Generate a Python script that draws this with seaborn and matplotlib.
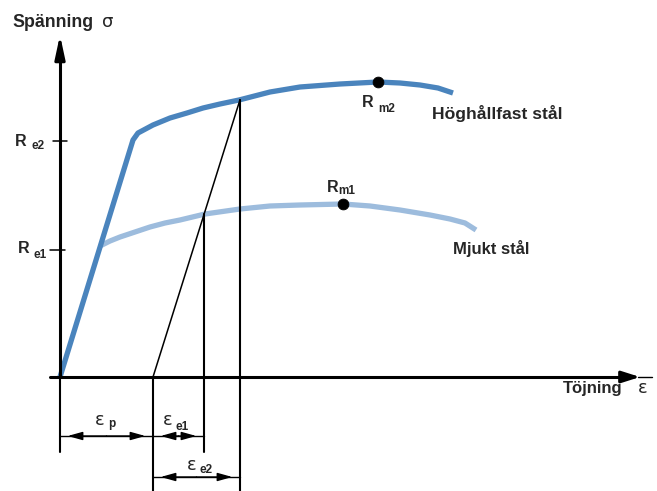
import numpy as np
import matplotlib
matplotlib.use("Agg")
import matplotlib.pyplot as plt
import seaborn as sns

sns.set_theme(style="white")
plt.rcParams["font.family"] = ["Liberation Sans", "DejaVu Sans"]

# Schematic stress-strain curves (arbitrary units)
strain_hs = [0, 73, 78, 93, 110, 127, 143, 160, 179, 210, 240, 280, 318,
             340, 360, 378, 393]
stress_hs = [0, 237, 244, 252, 259, 264, 269, 273, 277, 285, 290, 293, 295,
             294, 292, 289, 284]

strain_ms = [40, 50, 60, 75, 90, 105, 120, 145, 180, 210, 240, 283, 310,
             340, 370, 390, 405, 416]
stress_ms = [131, 136, 140, 145, 150, 154, 157, 163, 168, 171, 172, 173, 171,
             167, 162, 158, 154, 147]

Re2, Re1 = 236, 127            # yield strengths
Rm2 = (318, 295)               # tensile strength, high-strength steel
Rm1 = (283, 173)               # tensile strength, mild steel
eps_p, eps_e1, eps_e2 = 93, 51, 87   # plastic and elastic strain parts

dark = "#4a84bd"
light = "#9dbcdd"
ink = "black"

fig = plt.figure(figsize=(6.57, 4.91), dpi=100)
ax = fig.add_axes([0, 0, 1, 1])
ax.set_xlim(-60, 597)
ax.set_ylim(-114, 377)
ax.axis("off")

# curves
sns.lineplot(x=strain_ms, y=stress_ms, sort=False, color=light, lw=3.8, ax=ax,
             solid_capstyle="butt", solid_joinstyle="round", zorder=3)
sns.lineplot(x=strain_hs, y=stress_hs, sort=False, color=dark, lw=3.8, ax=ax,
             solid_capstyle="butt", solid_joinstyle="round", zorder=4)
sns.scatterplot(x=[Rm2[0], Rm1[0]], y=[Rm2[1], Rm1[1]], color=ink, s=60,
                edgecolor=ink, ax=ax, zorder=6)

# axes with arrows
axis_lw = 2.2
ax.plot([0, 0], [0, 320], color=ink, lw=axis_lw, zorder=5)
ax.annotate("", xy=(0, 342), xytext=(0, 318),
            arrowprops=dict(arrowstyle="-|>,head_length=1.4,head_width=0.3",
                            mutation_scale=10, color=ink, lw=axis_lw,
                            shrinkA=0, shrinkB=0), zorder=5)
ax.plot([-10, 566], [0, 0], color=ink, lw=axis_lw, zorder=5)
ax.annotate("", xy=(580, 0), xytext=(562, 0),
            arrowprops=dict(arrowstyle="-|>,head_length=1.1,head_width=0.35",
                            mutation_scale=10, color=ink, lw=axis_lw,
                            shrinkA=0, shrinkB=0), zorder=5)
ax.plot([578, 592], [0, 0], color=ink, lw=1.0, zorder=5)

# yield ticks
thin = 1.1
ax.plot([-7, 7], [Re2, Re2], color=ink, lw=thin)
ax.plot([-10, 5], [Re1, Re1], color=ink, lw=thin)

# unloading line and extension lines
x_e1 = eps_p + eps_e1
x_e2 = eps_p + eps_e2
top_e2 = np.interp(x_e2, strain_hs, stress_hs)
top_e1 = np.interp(x_e1, strain_ms, stress_ms)
ax.plot([eps_p, x_e2], [0, top_e2], color=ink, lw=thin, zorder=5)
ax.plot([0, 0], [0, -75], color=ink, lw=1.5)
ax.plot([eps_p, eps_p], [0, -114], color=ink, lw=1.5)
ax.plot([x_e1, x_e1], [top_e1, -75], color=ink, lw=1.5, zorder=5)
ax.plot([x_e2, x_e2], [top_e2, -114], color=ink, lw=1.5, zorder=5)


def dimension(x0, x1, y):
    ax.plot([x0, x1], [y, y], color=ink, lw=1.0)
    mid = (x0 + x1) / 2
    for end in (x0, x1):
        ax.annotate("", xy=(end, y), xytext=(mid, y),
                    arrowprops=dict(arrowstyle="-|>,head_length=0.9,head_width=0.25",
                                    mutation_scale=10, color=ink, lw=1.0,
                                    shrinkA=0, shrinkB=5.5))


dimension(0, eps_p, -59)
dimension(eps_p, x_e1, -59)
dimension(eps_p, x_e2, -100)


def label(xy, main, sub, d_main, d_sub, size=11.5, sub_size=8.5):
    ax.annotate(main, xy=xy, xytext=d_main, textcoords="offset pixels",
                ha="left", va="baseline", fontsize=size, fontweight="bold")
    ax.annotate(sub, xy=xy, xytext=d_sub, textcoords="offset pixels",
                ha="left", va="baseline", fontsize=sub_size, fontweight="bold")


label((0, Re2), "R", "e2", (-45, -5), (-28, -8))
label((0, Re1), "R", "e1", (-42, -3), (-27, -8))
label(Rm2, "R", "m2", (-16, -25), (0, -30))
label(Rm1, "R", "m1", (-16, 12), (-5, 10))

eps_kw = dict(fontsize=13, ha="left", va="baseline", family=["DejaVu Sans"])
ax.text(35, -48, "ε", **eps_kw)
ax.text(48, -50, "p", fontsize=8.5, fontweight="bold", ha="left", va="baseline")
ax.text(103, -48, "ε", **eps_kw)
ax.text(116, -53, "e1", fontsize=8.5, fontweight="bold", ha="left", va="baseline")
ax.text(127, -93, "ε", **eps_kw)
ax.text(140, -96, "e2", fontsize=8.5, fontweight="bold", ha="left", va="baseline")

# axis titles and curve names
ax.text(-48, 350, "Spänning", fontsize=12.8, fontweight="bold", va="baseline")
ax.text(42, 350, "σ", fontsize=13, va="baseline", family=["DejaVu Sans"])
ax.text(503, -16, "Töjning", fontsize=12, fontweight="bold", va="baseline")
ax.text(578, -16, "ε", fontsize=13, va="baseline", family=["DejaVu Sans"])
ax.text(372, 258, "Höghållfast stål", fontsize=12.6, fontweight="bold", va="baseline")
ax.text(393, 123, "Mjukt stål", fontsize=12, fontweight="bold", va="baseline")

fig.savefig("out.png", dpi=100)
